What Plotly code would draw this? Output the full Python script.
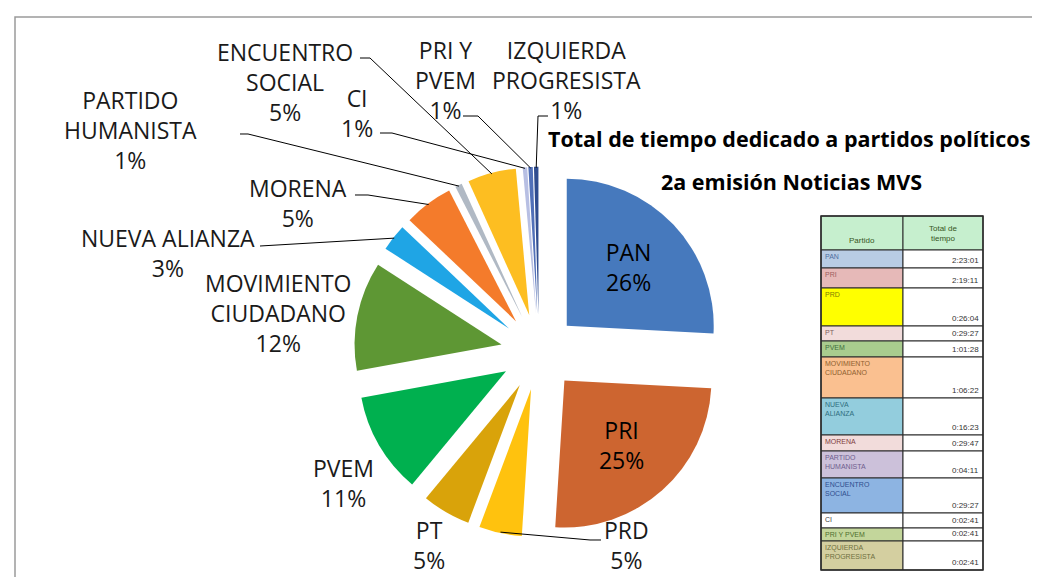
import math
import plotly.graph_objects as go

# ---------------- data ----------------
parties = ["PAN", "PRI", "PRD", "PT", "PVEM", "MOVIMIENTO CIUDADANO", "NUEVA ALIANZA",
           "MORENA", "PARTIDO HUMANISTA", "ENCUENTRO SOCIAL", "CI", "PRI Y PVEM",
           "IZQUIERDA PROGRESISTA"]
times = ["2:23:01", "2:19:11", "0:26:04", "0:29:27", "1:01:28", "1:06:22", "0:16:23",
         "0:29:47", "0:04:11", "0:29:27", "0:02:41", "0:02:41", "0:02:41"]
pct_labels = ["26%", "25%", "5%", "5%", "11%", "12%", "3%", "5%", "1%", "5%", "1%", "1%", "1%"]
chart_labels = [["PAN"], ["PRI"], ["PRD"], ["PT"], ["PVEM"], ["MOVIMIENTO", "CIUDADANO"],
                ["NUEVA ALIANZA"], ["MORENA"], ["PARTIDO", "HUMANISTA"], ["ENCUENTRO", "SOCIAL"],
                ["CI"], ["PRI Y", "PVEM"], ["IZQUIERDA", "PROGRESISTA"]]
table_names = ["PAN", "PRI", "PRD", "PT", "PVEM", "MOVIMIENTO<br>CIUDADANO", "NUEVA<br>ALIANZA",
               "MORENA", "PARTIDO<br>HUMANISTA", "ENCUENTRO<br>SOCIAL", "CI", "PRI Y PVEM",
               "IZQUIERDA<br>PROGRESISTA"]
title_lines = ["Total de tiempo dedicado a partidos políticos", "2a emisión Noticias MVS"]
table_header = ["Partido", "Total de<br>tiempo"]

seconds = []
for t in times:
    h, m, s = (int(p) for p in t.split(":"))
    seconds.append(h * 3600 + m * 60 + s)

# ---------------- styles ----------------
W, H = 1040, 577
FONT = "Open Sans"
slice_colors = ["#4679BD", "#CD6530", "#FFC20E", "#D9A30A", "#00B04F", "#5E9734", "#1FA5E5",
                "#F47B2B", "#B0B9C4", "#FDBE21", "#B7BFE3", "#5170B8", "#2F4C8F"]
table_bg = ["#B8CCE4", "#E6B9B8", "#FFFF00", "#F2DCDB", "#A9CC8E", "#FAC090", "#93CDDD",
            "#F2DCDB", "#CCC1DA", "#8DB4E2", "#FFFFFF", "#C3D69B", "#D4CFA0"]
table_fg = ["#4F6F9F", "#9F5F5F", "#7F7F00", "#7F5F5F", "#3F6F3F", "#8F5F2F", "#2F6F7F",
            "#7F3F3F", "#6F5F8F", "#2F4F8F", "#404040", "#4F6F2F", "#6F6F3F"]
PULL = 0.26

def X(px):
    return px / W

def Y(py):
    return 1 - py / H

# pie geometry (pixels)
CX, CY, HALF = 531, 344, 185.2
dom_x = [X(CX - HALF), X(CX + HALF)]
dom_y = [Y(CY + HALF), Y(CY - HALF)]
r_pie = HALF / (1 + PULL)

inside_text = ["<br>".join(chart_labels[i] + [pct_labels[i]]) if i < 2 else ""
               for i in range(len(parties))]
text_pos = ["inside" if i < 2 else "none" for i in range(len(parties))]

fig = go.Figure()
fig.add_trace(go.Pie(
    labels=parties, values=seconds, text=inside_text, textinfo="text",
    textposition=text_pos, sort=False, direction="clockwise", rotation=0,
    pull=[PULL] * len(parties),
    marker=dict(colors=slice_colors, line=dict(width=0)),
    domain=dict(x=dom_x, y=dom_y),
    insidetextfont=dict(family=FONT, size=23, color="black"),
    insidetextorientation="horizontal",
    hoverinfo="none", showlegend=False,
))

# ---------------- outside labels with leader lines ----------------
label_pos = {  # index: (x center, y center of the text block) px
    2: (618, 537),
    3: (421, 537),
    4: (335, 475),
    5: (270, 305),
    6: (160, 245),
    7: (290, 195),
    8: (122, 122),
    9: (277, 74),
    10: (349, 105),
    11: (437, 72),
    12: (558, 72),
}
leader_paths = {
    2: [(593, 532), (582, 532)],
    6: [(252, 238)],
    7: [(347, 187), (360, 187)],
    8: [(232, 126), (240, 126)],
    9: [(352, 50), (362, 50)],
    10: [(372, 125), (384, 125)],
    11: [(455, 108), (470, 108)],
    12: [(540, 108), (530, 108)],
}

total = sum(seconds)
cum = 0
anchors = []
for v in seconds:
    mid = (cum + v / 2) / total * 2 * math.pi
    R = r_pie * (1 + PULL) - 1
    anchors.append((CX + R * math.sin(mid), CY - R * math.cos(mid)))
    cum += v

annotations = []
shapes = []
for i, (lx, ly) in label_pos.items():
    annotations.append(dict(
        x=X(lx), y=Y(ly), xref="paper", yref="paper", showarrow=False,
        text="<br>".join(chart_labels[i] + [pct_labels[i]]), align="center",
        xanchor="center", yanchor="middle", borderpad=0,
        font=dict(family=FONT, size=23, color="#1a1a1a"),
    ))
for i, pts in leader_paths.items():
    full = pts + [anchors[i]]
    d = "M " + " L ".join(f"{X(px):.5f},{Y(py):.5f}" for px, py in full)
    shapes.append(dict(type="path", path=d, xref="paper", yref="paper",
                       line=dict(color="black", width=1)))

# ---------------- title ----------------
annotations.append(dict(x=X(538), y=Y(131), xref="paper", yref="paper", showarrow=False,
                        text=f"<b>{title_lines[0]}</b>", xanchor="left", yanchor="middle",
                        font=dict(family=FONT, size=21.5, color="black")))
annotations.append(dict(x=X(783), y=Y(173), xref="paper", yref="paper", showarrow=False,
                        text=f"<b>{title_lines[1]}</b>", xanchor="center", yanchor="middle",
                        font=dict(family=FONT, size=21.5, color="black")))

# ---------------- table (image-like) ----------------
col_x = [813, 895, 975]
row_y = [208, 242, 260, 280, 318, 333, 349, 390, 427, 443, 470, 505, 520, 533, 562]

def rect(x0, y0, x1, y1, fill, lw=1):
    shapes.append(dict(type="rect", xref="paper", yref="paper",
                       x0=X(x0), x1=X(x1), y0=Y(y1), y1=Y(y0),
                       fillcolor=fill, line=dict(color="#2a2a2a", width=lw)))

rect(col_x[0], row_y[0], col_x[1], row_y[1], "#C6EFCE")
rect(col_x[1], row_y[0], col_x[2], row_y[1], "#C6EFCE")
annotations.append(dict(x=X((col_x[0] + col_x[1]) / 2), y=Y(row_y[1] - 9), xref="paper", yref="paper",
                        showarrow=False, text=table_header[0], xanchor="center", yanchor="middle",
                        font=dict(family="Liberation Sans", size=8, color="#375623")))
annotations.append(dict(x=X((col_x[1] + col_x[2]) / 2), y=Y((row_y[0] + row_y[1]) / 2), xref="paper",
                        yref="paper", showarrow=False, text=table_header[1], xanchor="center",
                        yanchor="middle", font=dict(family="Liberation Sans", size=8, color="#375623")))
for i in range(len(parties)):
    y0, y1 = row_y[i + 1], row_y[i + 2]
    rect(col_x[0], y0, col_x[1], y1, table_bg[i])
    rect(col_x[1], y0, col_x[2], y1, "#FFFFFF")
    annotations.append(dict(x=X(col_x[0] + 2), y=Y(y0 + 1), xref="paper", yref="paper",
                            showarrow=False, text=table_names[i], xanchor="left", yanchor="top",
                            align="left", font=dict(family="Liberation Sans", size=7, color=table_fg[i])))
    annotations.append(dict(x=X(col_x[2] - 2), y=Y(y1 - 1), xref="paper", yref="paper",
                            showarrow=False, text=times[i], xanchor="right", yanchor="bottom",
                            font=dict(family="Liberation Sans", size=8, color="#333333")))
rect(col_x[0], row_y[0], col_x[2], row_y[-1], "rgba(0,0,0,0)", lw=1.5)

# chart-area border
shapes.append(dict(type="rect", xref="paper", yref="paper", x0=X(7), x1=X(1046), y0=Y(585), y1=Y(9),
                   line=dict(color="#9a9a9a", width=1.5), fillcolor="rgba(0,0,0,0)", layer="below"))

fig.update_layout(
    width=W, height=H, margin=dict(l=0, r=0, t=0, b=0),
    paper_bgcolor="white", plot_bgcolor="white",
    shapes=shapes, annotations=annotations, showlegend=False,
)
fig.write_html("out.html")
